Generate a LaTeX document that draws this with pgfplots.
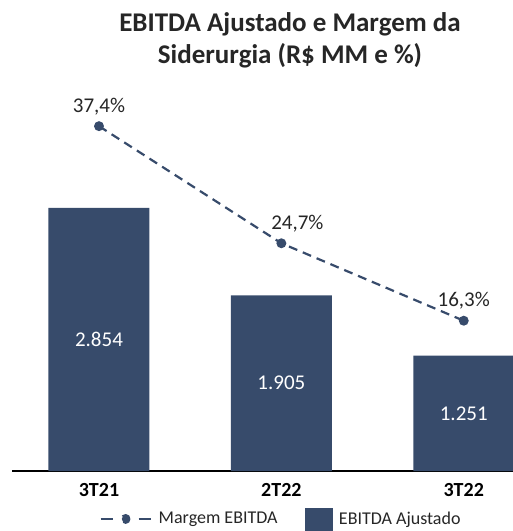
\documentclass[border=0pt]{standalone}
\usepackage{pgfplots}
\pgfplotsset{compat=1.18}
\usepackage{fontspec}
\setmainfont{Carlito}
\definecolor{barblue}{HTML}{374B6B}
\definecolor{txtgray}{HTML}{262626}

\pgfplotstableread{
x val
0 2854
1 1905
2 1251
}\ebitda

\pgfplotstableread{
x marg dx
0 37.4 0
1 24.7 16
2 16.3 0
}\margem

\begin{document}
\begin{tikzpicture}
\useasboundingbox (0,0) rectangle (513pt,531pt);

% barras (eixo principal)
\begin{axis}[
  at={(12pt,60pt)}, anchor=south west,
  scale only axis, width=501pt, height=368.8pt,
  xmin=-0.477, xmax=2.27, ymin=0, ymax=4000,
  axis x line*=bottom, hide y axis,
  x axis line style={black, line width=1.3pt, -},
  xtick={0,1,2}, xticklabels={3T21,2T22,3T22},
  major tick length=0pt,
  xticklabel style={font=\fontsize{20}{24}\selectfont\bfseries, text=black,
    anchor=base, inner sep=0pt, yshift=-25pt},
  clip=false,
]
\addplot[ybar, bar width=101pt, fill=barblue, draw=none,
  visualization depends on={rawy \as \ry},
  nodes near coords={\pgfmathprintnumber[1000 sep={.}, assume math mode=true]{\pgfplotspointmeta}},
  every node near coord/.append style={font=\fontsize{21}{25}\selectfont, text=white,
    anchor=center, inner sep=0pt, yshift={-0.0461pt*\ry}},
] table[x=x, y=val] {\ebitda};
\end{axis}

% margem (eixo secundario)
\begin{axis}[
  at={(12pt,60pt)}, anchor=south west,
  scale only axis, width=501pt, height=368.8pt,
  xmin=-0.477, xmax=2.27, ymin=0, ymax=40,
  hide x axis, hide y axis, clip=false,
  legend columns=2,
  legend style={at={(0.535,-0.130)}, anchor=center, draw=none, fill=none,
    font=\fontsize{18}{22}\selectfont, text=txtgray,
    nodes={inner sep=0pt},
    /tikz/every odd column/.append style={column sep=7pt},
    /tikz/every even column/.append style={column sep=27pt}},
]
\addplot[barblue, line width=2.2pt, dash pattern=on 9pt off 6pt,
  mark=*, mark size=3.8pt, mark options={solid},
  visualization depends on={\thisrow{dx} \as \dx},
  nodes near coords={\pgfmathprintnumber[fixed, fixed zerofill, precision=1, use comma, assume math mode=true]{\pgfplotspointmeta}\%},
  every node near coord/.append style={font=\fontsize{21}{25}\selectfont, text=txtgray,
    anchor=base, inner sep=0pt, yshift=14pt, xshift={\dx pt}},
  legend image code/.code={
    \draw[barblue, line width=2.2pt, dash pattern=on 12pt off 26pt on 12pt] (0pt,0pt) -- (50pt,0pt);
    \fill[barblue] (25pt,0pt) circle (3.8pt);
  },
] table[x=x, y=marg] {\margem};
\addlegendentry{Margem EBITDA}
\addlegendimage{legend image code/.code={\fill[barblue] (0pt,-11pt) rectangle (27pt,11pt);}}
\addlegendentry{EBITDA Ajustado}
\end{axis}

\node[anchor=base, font=\fontsize{27}{32}\selectfont\bfseries, text=txtgray] at (290pt,499pt) {EBITDA Ajustado e Margem da};
\node[anchor=base, font=\fontsize{27}{32}\selectfont\bfseries, text=txtgray] at (290pt,467pt) {Siderurgia (R\$ MM e \%)};
\end{tikzpicture}
\end{document}
